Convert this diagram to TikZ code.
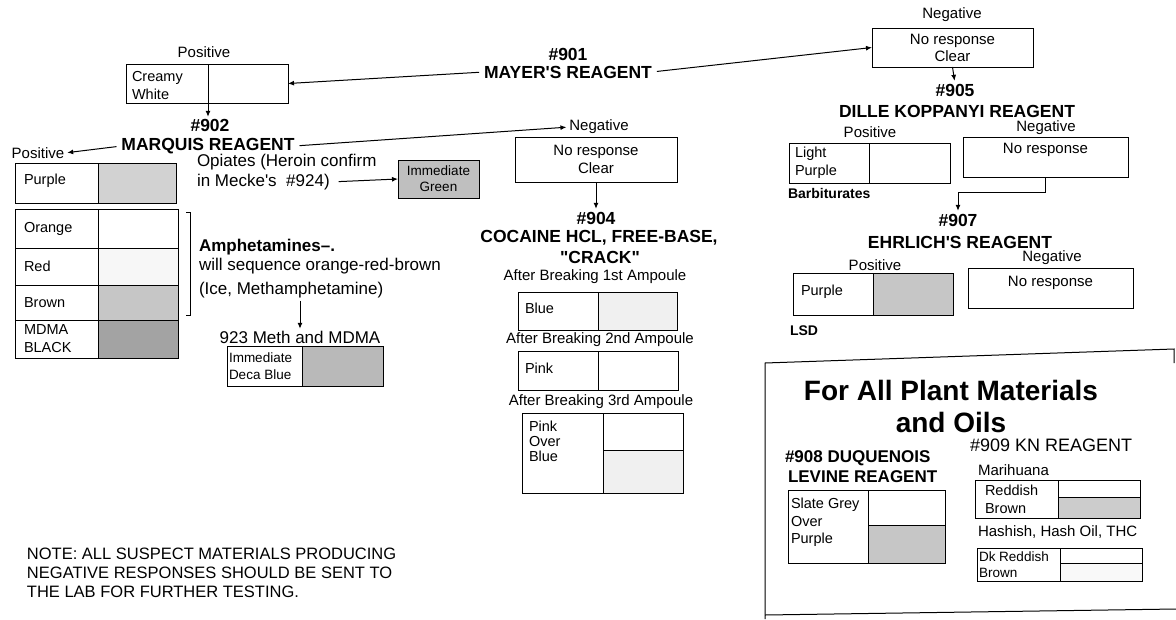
\documentclass[tikz,border=0pt]{standalone}
\usepackage{fontspec}
\setmainfont{Liberation Sans}
\newfontfamily\nq{Liberation Sans}
\usetikzlibrary{arrows.meta,calc}
\newcommand\fhd{\bfseries\fontsize{17.5}{19}\selectfont}
\newcommand\flb{\fontsize{15}{18}\selectfont}
\newcommand\fcl{\fontsize{14.5}{18}\selectfont}
\newcommand\fmid{\fontsize{17}{20}\selectfont}
\begin{document}
\begin{tikzpicture}[x=1pt,y=-1pt,
  every node/.style={inner sep=0pt, outer sep=0pt},
  hd/.style={font=\fhd},
  lb/.style={font=\flb},
  cell/.style={draw, line width=1pt, anchor=north west, inner sep=0pt},
  ctxt/.style={font=\fcl, align=left},
  arr/.style={line width=1pt, -{Latex[length=6pt,width=5pt]}},
  ln/.style={line width=1pt}
]
\useasboundingbox (0,0) rectangle (1176,619);
\fill[white] (0,0) rectangle (1176,619);

% ---------- #901 Mayer ----------
\node[hd] (n901) at (568,54) {\#901};
\node[hd] (mayer) at (568,72) {\nq MAYER'S REAGENT};

% ---------- Creamy White ----------
\node[lb] (posA) at (204,52) {Positive};
\node[cell, minimum width=82, minimum height=39] (cwL) at (126,64) {};
\node[cell, minimum width=80, minimum height=39] (cwR) at (208,64) {};
\node[ctxt, anchor=west] at ($(cwL.west)+(6,2)$) {Creamy\\White};
\draw[arr, shorten <=5pt] (mayer.west) -- (cwR.east);

% ---------- #902 Marquis ----------
\node[hd] (n902) at (210,125) {\#902};
\node[hd] (marq) at (208,146) {MARQUIS REAGENT};
\draw[arr, shorten >=2pt] (cwR.south west) -- (cwR.south west |- n902.north);
\node[lb] (posB) at (38,153) {Positive};
\draw[arr, shorten <=5pt, shorten >=3pt] (marq.west) -- (posB.east);

\node[cell, minimum width=83, minimum height=40] (puL) at (15,163) {};
\node[cell, minimum width=78, minimum height=40, fill=gray!35] (puR) at (98,163) {};
\node[ctxt, anchor=west] at ($(puL.west)+(9,-2)$) {Purple};

\node[cell, minimum width=83, minimum height=39] (orL) at (15,209) {};
\node[cell, minimum width=80, minimum height=39] (orR) at (98,209) {};
\node[ctxt, anchor=west] at ($(orL.west)+(9,0)$) {Orange};
\node[cell, minimum width=83, minimum height=37] (rdL) at (15,248) {};
\node[cell, minimum width=80, minimum height=37, fill=gray!6] (rdR) at (98,248) {};
\node[ctxt, anchor=west] at ($(rdL.west)+(9,0)$) {Red};
\node[cell, minimum width=83, minimum height=35] (brL) at (15,285) {};
\node[cell, minimum width=80, minimum height=35, fill=gray!45] (brR) at (98,285) {};
\node[ctxt, anchor=west] at ($(brL.west)+(9,0)$) {Brown};
\node[cell, minimum width=83, minimum height=38] (mdL) at (15,320) {};
\node[cell, minimum width=80, minimum height=38, fill=gray!72] (mdR) at (98,320) {};
\node[ctxt, anchor=west] at ($(mdL.west)+(9,0)$) {MDMA\\BLACK};

\draw[ln] (186,212) -- (190,212) -- (190,315) -- (186,315);

\node[font=\bfseries\fmid, anchor=west] (am1) at (199,247) {Amphetamines--.};
\node[font=\fmid, anchor=west] (am2) at (199,266) {will sequence orange-red-brown};
\node[font=\fmid, anchor=west] (am3) at (199,290) {(Ice, Methamphetamine)};

\node[font=\fmid] (m923) at (300,337) {923 Meth and MDMA};
\draw[arr, shorten <=3pt, shorten >=2pt] (m923.north |- am3.south) -- (m923.north);
\node[cell, minimum width=75, minimum height=40] (imL) at (227,346) {};
\node[cell, minimum width=81, minimum height=40, fill=gray!55] (imR) at (302,346) {};
\node[ctxt, anchor=west, font=\fontsize{13.5}{17.5}\selectfont] at ($(imL.west)+(2,0)$) {Immediate\\Deca Blue};

\node[font=\fmid, anchor=west] (op1) at (197,162) {Opiates (Heroin confirm};
\node[font=\fmid, anchor=west] (op2) at (197,182) {\nq in Mecke's~~\#924)};
\node[cell, minimum width=81, minimum height=38, fill=gray!50, align=center, font=\fontsize{13.5}{16}\selectfont] (immG) at (398,160) {Immediate\\Green};
\draw[arr, shorten <=9pt] (op2.east) -- (immG.west);

% ---------- Marquis negative / #904 ----------
\node[lb] (negM) at (599,127) {Negative};
\draw[arr, shorten <=5pt, shorten >=3pt] (marq.east) -- (negM.west);
\node[cell, minimum width=162, minimum height=45, align=center, font=\flb] (nr1) at (515,137) {No response\\Clear};
\node[hd] (n904) at (596,218) {\#904};
\draw[arr, shorten >=3pt] (nr1.south) -- (n904.north);
\node[hd] (coc1) at (599,238) {COCAINE HCL, FREE-BASE,};
\node[hd] (coc2) at (600,257) {\nq "CRACK"};

\node[lb] (amp1) at (595,277) {After Breaking 1st Ampoule};
\node[cell, minimum width=80, minimum height=38] (blL) at (518,292) {};
\node[cell, minimum width=79, minimum height=38, fill=gray!12] (blR) at (598,292) {};
\node[ctxt, anchor=west] at ($(blL.west)+(7,-3)$) {Blue};

\node[lb] (amp2) at (600,340) {After Breaking 2nd Ampoule};
\node[cell, minimum width=80, minimum height=39] (pkL) at (518,351) {};
\node[cell, minimum width=80, minimum height=39] (pkR) at (598,351) {};
\node[ctxt, anchor=west] at ($(pkL.west)+(7,-2)$) {Pink};

\node[lb] (amp3) at (601,402) {After Breaking 3rd Ampoule};
\node[cell, minimum width=81, minimum height=80] (pbL) at (522,413) {};
\node[cell, minimum width=80, minimum height=37] (pbT) at (603,413) {};
\node[cell, minimum width=80, minimum height=43, fill=gray!12] (pbB) at (603,450) {};
\node[ctxt, anchor=north west, font=\fontsize{14.5}{15}\selectfont] at ($(pbL.north west)+(7,8)$) {Pink\\Over\\Blue};

% ---------- Mayer negative / #905 ----------
\node[lb] (negT) at (952,15) {Negative};
\node[cell, minimum width=161, minimum height=39, align=center, font=\fontsize{15}{17}\selectfont] (nrT) at (872,28) {No response\\Clear};
\draw[arr, shorten <=5pt] (mayer.east) -- (nrT.west);
\node[hd] (n905) at (955,90) {\#905};
\draw[arr, shorten >=3pt] (nrT.south) -- (n905.north);
\node[hd] (dille) at (957,111) {DILLE KOPPANYI REAGENT};
\node[lb] (posD) at (870,132) {Positive};
\node[lb] (negD) at (1046,128) {Negative};

\node[cell, minimum width=80, minimum height=40] (lpL) at (789,143) {};
\node[cell, minimum width=81, minimum height=40] (lpR) at (869,143) {};
\node[ctxt, anchor=west] at ($(lpL.west)+(6,0)$) {Light\\Purple};
\node[font=\bfseries\fontsize{14}{16}\selectfont, anchor=west] (barb) at (788,193) {Barbiturates};

\node[cell, minimum width=165, minimum height=40] (nrD) at (963,137) {};
\node[lb] at ($(nrD.north)+(0,13)$) {No response};

\node[hd] (n907) at (958,220) {\#907};
\draw[arr, shorten >=3pt] (nrD.south) -- ++(0,15) -| (n907.north);
\node[hd] (ehr) at (960,242) {\nq EHRLICH'S REAGENT};
\node[lb] (posE) at (875,265) {Positive};
\node[lb] (negE) at (1052,258) {Negative};

\node[cell, minimum width=80, minimum height=42] (epL) at (793,273) {};
\node[cell, minimum width=80, minimum height=42, fill=gray!45] (epR) at (873,273) {};
\node[ctxt, anchor=west] at ($(epL.west)+(8,-2)$) {Purple};
\node[font=\bfseries\fontsize{14}{16}\selectfont, anchor=west] (lsd) at (790,331) {LSD};

\node[cell, minimum width=165, minimum height=40] (nrE) at (968,268) {};
\node[lb] at ($(nrE.north)+(0,15)$) {No response};

% ---------- Plant materials frame ----------
\draw[ln] (1174,363) -- (1174,349) -- (765,363) -- (765,619);
\draw[ln] (765,615) -- (1176,609);
\node[font=\bfseries\fontsize{28}{30}\selectfont] (pl1) at (951,390) {For All Plant Materials};
\node[font=\bfseries\fontsize{28}{30}\selectfont] (pl2) at (951,422) {and Oils};

\node[font=\bfseries\fontsize{17}{19}\selectfont, anchor=west] (d1) at (785,458) {\#908 DUQUENOIS};
\node[font=\bfseries\fontsize{17}{19}\selectfont, anchor=west] (d2) at (788,477) {LEVINE REAGENT};
\node[cell, minimum width=80, minimum height=73] (sgL) at (788,490) {};
\node[cell, minimum width=77, minimum height=35] (sgT) at (868,490) {};
\node[cell, minimum width=77, minimum height=38, fill=gray!45] (sgB) at (868,525) {};
\node[ctxt, anchor=north west, font=\fontsize{14.5}{17.5}\selectfont] at ($(sgL.north west)+(3,8)$) {Slate Grey\\Over\\Purple};

\node[font=\fontsize{18}{20}\selectfont, anchor=west] (kn) at (970,445) {\#909 KN REAGENT};
\node[lb, anchor=west] (mari) at (978,470) {Marihuana};
\node[cell, minimum width=83, minimum height=38] (rbL) at (975,480) {};
\node[cell, minimum width=82, minimum height=17] (rbT) at (1058,480) {};
\node[cell, minimum width=82, minimum height=21, fill=gray!40] (rbB) at (1058,497) {};
\node[ctxt, anchor=west] at ($(rbL.west)+(10,0)$) {Reddish\\Brown};

\node[lb, anchor=west] (hash) at (978,532) {Hashish, Hash Oil, THC};
\node[cell, minimum width=83, minimum height=33] (drL) at (977,548) {};
\node[cell, minimum width=82, minimum height=15] (drT) at (1060,548) {};
\node[cell, minimum width=82, minimum height=18, fill=gray!5] (drB) at (1060,563) {};
\node[ctxt, anchor=west, font=\fontsize{13.5}{16.5}\selectfont] at ($(drL.west)+(2,0)$) {Dk Reddish\\Brown};

% ---------- Note ----------
\node[font=\fontsize{16.5}{19}\selectfont, anchor=west] (note1) at (27,554) {NOTE: ALL SUSPECT MATERIALS PRODUCING};
\node[font=\fontsize{16.5}{19}\selectfont, anchor=west] (note2) at (27,573) {NEGATIVE RESPONSES SHOULD BE SENT TO};
\node[font=\fontsize{16.5}{19}\selectfont, anchor=west] (note3) at (27,592) {THE LAB FOR FURTHER TESTING.};
\end{tikzpicture}
\end{document}
